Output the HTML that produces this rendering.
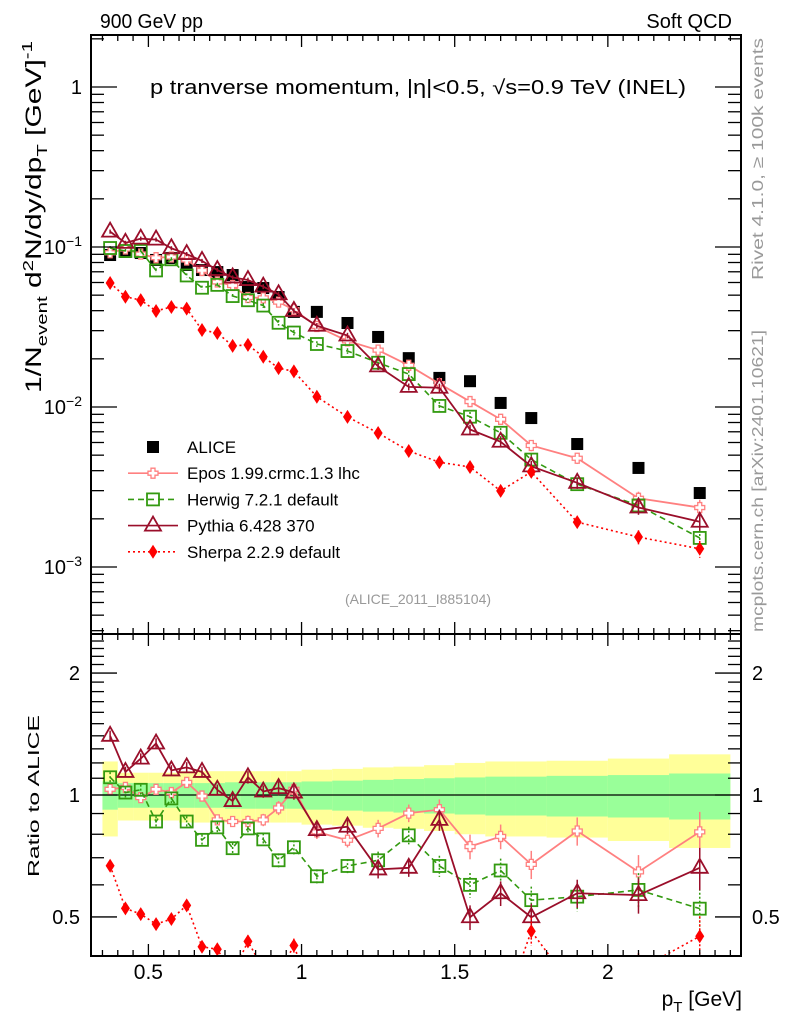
<!DOCTYPE html>
<html><head><meta charset="utf-8"><style>
body{margin:0;background:#fff}
svg{display:block;font-family:"Liberation Sans",sans-serif}
</style></head><body>
<svg id="chart" width="786" height="1024" viewBox="0 0 786 1024" xmlns="http://www.w3.org/2000/svg">
<defs>
<clipPath id="cm"><rect x="91" y="35" width="650" height="599"/></clipPath>
<clipPath id="cr"><rect x="91" y="634" width="650" height="322"/></clipPath>
</defs>
<g id="bands" clip-path="url(#cr)"></g>
<g id="ratioline"></g>
<g id="marks"></g>
<g id="axes"></g>
<text x="100" y="28" font-size="20" textLength="103" lengthAdjust="spacingAndGlyphs">900 GeV pp</text>
<text x="732" y="28" font-size="20" text-anchor="end">Soft QCD</text>
<text x="150" y="94" font-size="20" textLength="536" lengthAdjust="spacingAndGlyphs">p tranverse momentum, |η|&lt;0.5, √s=0.9 TeV (INEL)</text>
<text x="418" y="604" font-size="14" fill="#999" text-anchor="middle">(ALICE_2011_I885104)</text>
<text transform="translate(763,280) rotate(-90)" font-size="16" fill="#999" textLength="242" lengthAdjust="spacingAndGlyphs">Rivet 4.1.0, ≥ 100k events</text>
<text transform="translate(763,632) rotate(-90)" font-size="16" fill="#999" textLength="302" lengthAdjust="spacingAndGlyphs">mcplots.cern.ch [arXiv:2401.10621]</text>
<text transform="translate(41,393) rotate(-90)" font-size="22" textLength="352" lengthAdjust="spacingAndGlyphs">1/N<tspan font-size="15" dy="6">event</tspan><tspan dy="-6"> d</tspan><tspan font-size="15" dy="-8">2</tspan><tspan dy="8">N/dy/dp</tspan><tspan font-size="15" dy="6">T</tspan><tspan dy="-6">  [GeV]</tspan><tspan font-size="15" dy="-9">-1</tspan></text>
<text transform="translate(39,877) rotate(-90)" font-size="16" textLength="162" lengthAdjust="spacingAndGlyphs">Ratio to ALICE</text>
<text x="742" y="1006" font-size="21" text-anchor="end">p<tspan font-size="15" dy="6">T</tspan><tspan dy="-6"> [GeV]</tspan></text>
<g id="legend"></g>
</svg>
<script>
const xCenters=[0.375,0.425,0.475,0.525,0.575,0.625,0.675,0.725,0.775,0.825,0.875,0.925,0.975,1.05,1.15,1.25,1.35,1.45,1.55,1.65,1.75,1.9,2.1,2.3];
const binEdges=[0.35,0.4,0.45,0.5,0.55,0.6,0.65,0.7,0.75,0.8,0.85,0.9,0.95,1.0,1.1,1.2,1.3,1.4,1.5,1.6,1.7,1.8,2.0,2.2,2.4];
const alice=[0.0891,0.0931,0.0917,0.083,0.0854,0.0772,0.0718,0.0697,0.0668,0.0562,0.0554,0.0487,0.0393,0.0393,0.0335,0.0274,0.0202,0.0152,0.0145,0.0106,0.00853,0.00587,0.00416,0.0029];
const aliceStatErr=[0.08,0.07,0.07,0.07,0.07,0.07,0.07,0.07,0.075,0.075,0.075,0.075,0.075,0.08,0.085,0.09,0.095,0.1,0.105,0.11,0.11,0.115,0.12,0.13];
const aliceTotErr=[0.21,0.135,0.135,0.135,0.135,0.145,0.145,0.145,0.145,0.145,0.145,0.145,0.145,0.155,0.16,0.17,0.175,0.185,0.2,0.21,0.21,0.215,0.23,0.26];
const eposRatio=[1.033,1.044,0.985,1.033,1.014,1.074,0.994,0.868,0.86,0.86,0.868,0.929,1.033,0.811,0.773,0.827,0.902,0.92,0.746,0.79,0.674,0.815,0.646,0.811];
const herwigRatio=[1.106,1.014,1.03,0.86,0.981,0.86,0.775,0.832,0.739,0.827,0.777,0.69,0.743,0.63,0.668,0.69,0.795,0.668,0.60,0.651,0.55,0.561,0.583,0.524];
const pythiaRatio=[1.40,1.14,1.23,1.34,1.15,1.17,1.14,1.03,0.966,1.106,1.02,1.04,1.014,0.819,0.835,0.655,0.661,0.868,0.499,0.572,0.499,0.572,0.566,0.661];
const sherpaRatio=[0.669,0.525,0.508,0.48,0.494,0.534,0.422,0.416,0.361,0.435,0.372,0.359,0.425,0.295,0.259,0.251,0.263,0.297,0.291,0.282,0.461,0.325,0.37,0.448];
const mcErr=[0.03,0.03,0.03,0.03,0.03,0.03,0.03,0.03,0.03,0.035,0.035,0.04,0.04,0.04,0.04,0.05,0.05,0.06,0.07,0.07,0.08,0.08,0.1,0.12];
const xTicks=[0.5,1,1.5,2];
const xTickLabels=["0.5","1","1.5","2"];
const mainTicks=[1,0.1,0.01,0.001];
const ratioTicks=[2,1,0.5];
const ratioTickLabels=["2","1","0.5"];

const NS="http://www.w3.org/2000/svg";
const L=91,R=741,MT=35,MB=634,RB=956;
const xs=v=>148.4+(v-0.5)*306.3;
const ym=v=>87-160*Math.log10(v);
const yr=v=>795-405*Math.log10(v);
function mk(tag,at,parent){const e=document.createElementNS(NS,tag);for(const k in at)e.setAttribute(k,at[k]);parent.appendChild(e);return e;}
const marks=document.getElementById('marks'),axes=document.getElementById('axes'),bands=document.getElementById('bands');

for(let i=0;i<xCenters.length;i++){
  const x0=xs(binEdges[i]),x1=xs(binEdges[i+1]);
  const y=mk('rect',{x:x0,y:yr(1+aliceTotErr[i]),width:x1-x0,height:yr(1-aliceTotErr[i])-yr(1+aliceTotErr[i]),fill:'#ffff99'},bands);
  
  
}
for(let i=0;i<xCenters.length;i++){
  const x0=xs(binEdges[i]),x1=xs(binEdges[i+1]);
  const g=mk('rect',{x:x0,y:yr(1+aliceStatErr[i]),width:x1-x0,height:yr(1-aliceStatErr[i])-yr(1+aliceStatErr[i]),fill:'#99ff99'},bands);
  
  
}
mk('line',{x1:L,x2:R,y1:yr(1),y2:yr(1),stroke:'#000','stroke-width':1.3},document.getElementById('ratioline'));

function marker(type,x,y,col,p){
  let e;
  if(type==='sq') e=mk('rect',{x:x-6,y:y-6,width:12,height:12,fill:'#000'},p);
  else if(type==='osq') e=mk('rect',{x:x-6,y:y-6,width:12,height:12,fill:'none',stroke:col,'stroke-width':1.8},p);
  else if(type==='tri') e=mk('path',{d:`M${x},${y-9}L${x+8},${y+5}L${x-8},${y+5}Z`,fill:'none',stroke:col,'stroke-width':1.8},p);
  else if(type==='dia') e=mk('path',{d:`M${x},${y-7}L${x+4.5},${y}L${x},${y+7}L${x-4.5},${y}Z`,fill:col},p);
  else if(type==='cross') e=mk('path',{d:`M${x-2},${y-5}h4v3h3v4h-3v3h-4v-3h-3v-4h3Z`,fill:'#fff',stroke:col,'stroke-width':1.3},p);
  return e;
}
const series=[
 {name:'epos',r:eposRatio,col:'#ff8080',dash:'',m:'cross'},
 {name:'herwig',r:herwigRatio,col:'#339a10',dash:'6,4',m:'osq'},
 {name:'pythia',r:pythiaRatio,col:'#9a0e2a',dash:'',m:'tri'},
 {name:'sherpa',r:sherpaRatio,col:'#ff0000',dash:'2,3',m:'dia'}
];
for(const panel of ['main','ratio']){
  const g=mk('g',{'clip-path':panel==='main'?'url(#cm)':'url(#cr)'},marks);
  
  
  if(panel==='main'){
    alice.forEach((v,i)=>{const m=marker('sq',xs(xCenters[i]),ym(v),'#000',g);
      
      });
  }
  for(const s of series){
    const vals=s.r.map((r,i)=>panel==='main'?r*alice[i]:r);
    const yf=panel==='main'?ym:yr;
    const pts=vals.map((v,i)=>xs(xCenters[i])+','+yf(v)).join(' ');
    const pl=mk('polyline',{points:pts,fill:'none',stroke:s.col,'stroke-width':s.name==='herwig'||s.name==='sherpa'?1.6:1.8,'stroke-dasharray':s.dash},g);
    
    
    vals.forEach((v,i)=>{
      const x=xs(xCenters[i]);
      const e=mk('line',{x1:x,x2:x,y1:yf(v*(1+mcErr[i])),y2:yf(v*(1-mcErr[i])),stroke:s.col,'stroke-width':1.5,'stroke-dasharray':s.dash?'2,2':''},g);
      
      
      const m=marker(s.m,x,yf(v),s.col,g);
      
      
    });
  }
}

function fr(y0,y1,n){const r=mk('rect',{x:L,y:y0,width:R-L,height:y1-y0,fill:'none',stroke:'#000','stroke-width':2},axes);
  
  }
fr(MT,MB,'main-frame');fr(MB,RB,'ratio-frame');
function tk(x1,y1,x2,y2){mk('line',{x1,y1,x2,y2,stroke:'#000','stroke-width':1.3},axes);}
for(let v=0.35;v<=2.41;v+=0.05){const x=xs(v);const maj=Math.abs(v*2-Math.round(v*2))<1e-6;const l=maj?12:6;
  for(const [yt,yb] of [[MT,MB],[MB,RB]]){tk(x,yt,x,yt+l);tk(x,yb,x,yb-l);}}
for(let d=-4;d<=0;d++){for(let k=1;k<=9;k++){const v=k*Math.pow(10,d);const y=ym(v);if(y<MT||y>MB)continue;const l=k===1?26:13;tk(L,y,L+l,y);tk(R,y,R-l,y);}}
for(let k=4;k<=25;k++){const v=k/10;const y=yr(v);if(y<MB||y>RB)continue;const l=(k===5||k===10||k===20)?26:13;tk(L,y,L+l,y);tk(R,y,R-l,y);}
xTicks.forEach((v,i)=>{const t=mk('text',{x:xs(v),y:979,'font-size':21,'text-anchor':'middle'},axes);t.textContent=xTickLabels[i];
  
  });
mainTicks.forEach(v=>{const y=ym(v);const t=mk('text',{x:82,y:y+7,'font-size':20,'text-anchor':'end'},axes);
  if(v===1)t.textContent='1';else{t.textContent='10';const s=mk('tspan',{dy:-8,'font-size':14},t);s.textContent='\u2212'+String(-Math.round(Math.log10(v)));}
  
  });
ratioTicks.forEach((v,i)=>{for(const [x,a] of [[80,'end'],[752,'start']]){const t=mk('text',{x,y:yr(v)+7,'font-size':20,'text-anchor':a},axes);t.textContent=ratioTickLabels[i];
  
  }});

const lg=document.getElementById('legend');
const entries=[['ALICE',null],['Epos 1.99.crmc.1.3 lhc',series[0]],['Herwig 7.2.1 default',series[1]],['Pythia 6.428 370',series[2]],['Sherpa 2.2.9 default',series[3]]];
entries.forEach((e,i)=>{const y=447+i*26.2;const g=mk('g',{},lg);
  
  
  if(!e[1])marker('sq',153,y,'#000',g);
  else{mk('line',{x1:128,x2:178,y1:y,y2:y,stroke:e[1].col,'stroke-width':1.6,'stroke-dasharray':e[1].dash},g);marker(e[1].m,153,y,e[1].col,g);}
  const t=mk('text',{x:187,y:y+6,'font-size':17},g);t.textContent=e[0];});
</script>
</body></html>
